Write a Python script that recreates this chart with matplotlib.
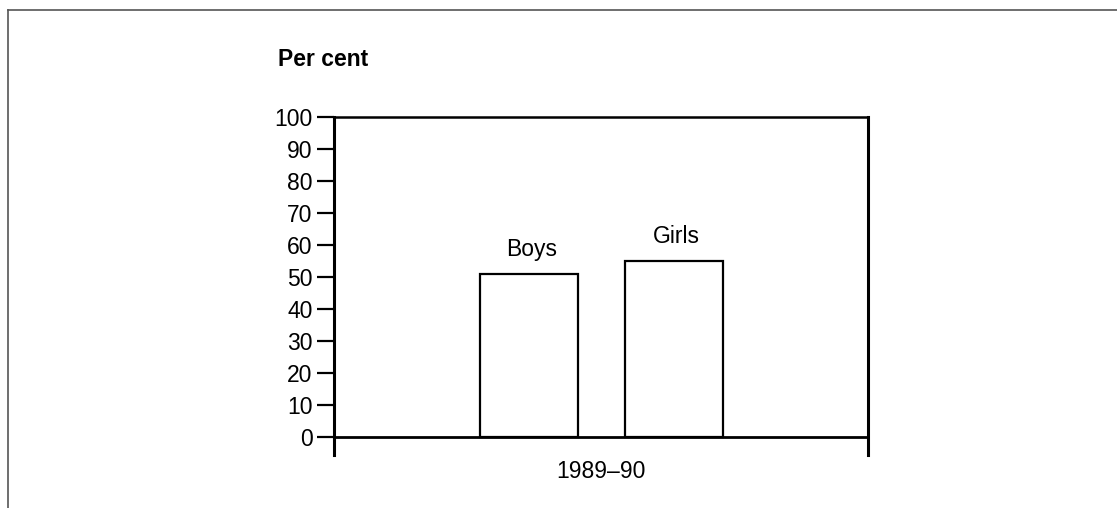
import matplotlib
matplotlib.use("Agg")
import matplotlib.pyplot as plt
from matplotlib.lines import Line2D

categories = ["Boys", "Girls"]
values = [51, 55]
yticks = [0, 10, 20, 30, 40, 50, 60, 70, 80, 90, 100]
period_label = "1989–90"
y_title = "Per cent"

plt.rcParams['font.family'] = ['Liberation Sans', 'DejaVu Sans']

W, H = 1117, 508
fig = plt.figure(figsize=(W / 100, H / 100), dpi=100)

def fx(px):
    return px / W

def fy(py):
    return 1 - py / H

ax = fig.add_axes([fx(334), fy(455), fx(868) - fx(334), fy(117) - fy(455)])

x = list(range(len(categories)))
bars = ax.bar(x, values, width=0.675, color="white", edgecolor="black", linewidth=1.6, zorder=3)

ax.set_xlim(-1.345, 2.34)
ax.set_ylim(-(455 - 437) / 3.2, 100)
ax.set_yticks(yticks)
ax.set_yticklabels([str(t) for t in yticks], fontsize=16.5)
ax.set_xticks([])
ax.tick_params(axis='y', length=12, width=1.6, pad=3.5, direction='out', color='black')

for side in ['left', 'right']:
    ax.spines[side].set_linewidth(2.2)
    ax.spines[side].set_color('black')
ax.spines['top'].set_linewidth(1.8)
ax.spines['top'].set_color('black')
ax.spines['bottom'].set_visible(False)
ax.axhline(0, color='black', linewidth=2.0, zorder=4)

for xi, v, name in zip(x, values, categories):
    ax.annotate(name, (xi, v), xytext=(2, 13), textcoords='offset points',
                ha='center', va='baseline', fontsize=16.5)

fig.text(fx(601), fy(478), period_label, ha='center', va='baseline', fontsize=16.5)
fig.text(fx(278), fy(66), y_title, ha='left', va='baseline', fontsize=16.5, fontweight='bold')

# outer frame lines (top and left)
fig.add_artist(Line2D([fx(8), 1.0], [fy(10), fy(10)], transform=fig.transFigure, color='#555555', linewidth=1.2))
fig.add_artist(Line2D([fx(8), fx(8)], [fy(10), 0.0], transform=fig.transFigure, color='#555555', linewidth=1.2))

fig.savefig("out.png", dpi=100, facecolor='white')
